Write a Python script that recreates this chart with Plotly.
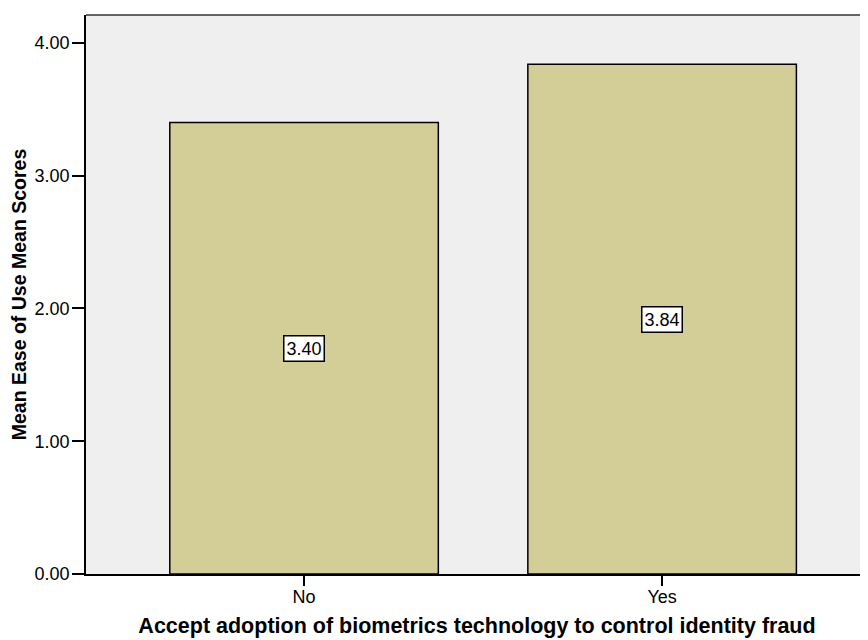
import plotly.graph_objects as go

categories = ["No", "Yes"]
means = [3.40, 3.84]
label_texts = ["3.40", "3.84"]
y_ticks = [0, 1, 2, 3, 4]
y_tick_labels = ["0.00", "1.00", "2.00", "3.00", "4.00"]

FONT = "Liberation Sans, Arial, sans-serif"

fig = go.Figure()
fig.add_trace(go.Bar(
    x=[0, 1], y=means, width=0.75,
    marker=dict(color="#D3CE97", line=dict(color="black", width=1.5)),
    showlegend=False, hoverinfo="skip",
))

for i, (v, t) in enumerate(zip(means, label_texts)):
    fig.add_annotation(
        x=i, y=v / 2, text=t, showarrow=False,
        font=dict(family=FONT, size=18, color="black"),
        bgcolor="white", bordercolor="black", borderwidth=1.5, borderpad=2,
    )

fig.add_shape(type="line", xref="paper", yref="paper", x0=0, x1=1, y0=1, y1=1,
              line=dict(color="#333333", width=1.5))

# page body has an 8px default margin, so the figure is sized to compensate
fig.update_layout(
    width=860, height=632,
    margin=dict(l=78, r=0, t=7, b=66),
    paper_bgcolor="white", plot_bgcolor="#EFEFEF",
    font=dict(family=FONT, color="black"),
)
fig.update_xaxes(
    range=[-0.609, 1.575], tickvals=[0, 1], ticktext=categories,
    ticks="outside", ticklen=10, tickwidth=1.5, tickcolor="black",
    ticklabelstandoff=-4,
    showline=True, linecolor="black", linewidth=1.5,
    showgrid=False, zeroline=False,
    tickfont=dict(family=FONT, size=18),
    title=dict(text="<b>Accept adoption of biometrics technology to control identity fraud</b>",
               font=dict(family=FONT, size=21.5), standoff=12),
)
fig.update_yaxes(
    range=[0, 4.21], tickvals=y_ticks, ticktext=y_tick_labels,
    ticks="outside", ticklen=12, tickwidth=1.5, tickcolor="black",
    ticklabelstandoff=-1,
    showline=True, linecolor="black", linewidth=1.5,
    showgrid=False, zeroline=False,
    tickfont=dict(family=FONT, size=18),
    title=dict(text="<b>Mean Ease of Use Mean Scores</b>",
               font=dict(family=FONT, size=19.5), standoff=9),
)

fig.write_html("out.html")
